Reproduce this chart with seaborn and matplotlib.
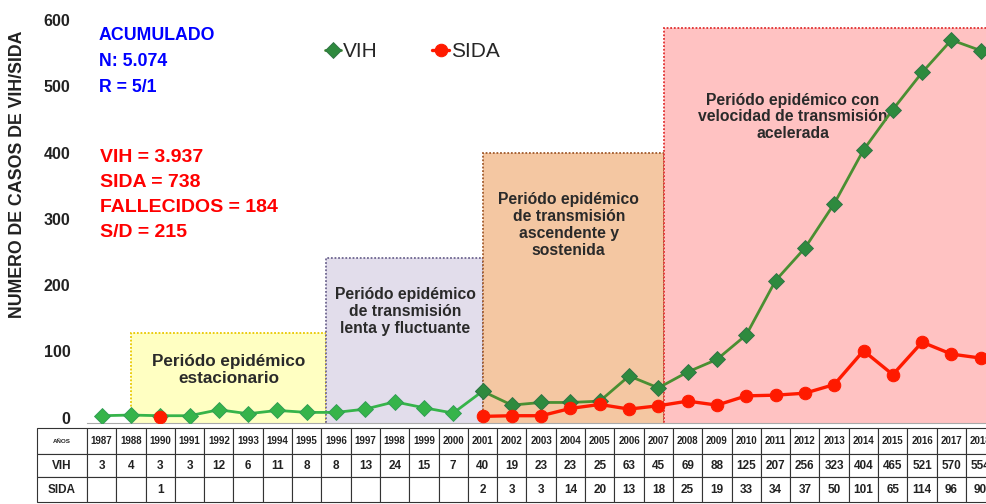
import numpy as np
import pandas as pd
import matplotlib
matplotlib.use("Agg")
import matplotlib.pyplot as plt
from matplotlib.patches import Rectangle
import seaborn as sns

# datos leidos de la tabla del grafico (1989 no aparece)
years = [1987, 1988, 1990, 1991, 1992, 1993, 1994, 1995, 1996, 1997, 1998, 1999, 2000,
         2001, 2002, 2003, 2004, 2005, 2006, 2007, 2008, 2009, 2010, 2011, 2012, 2013,
         2014, 2015, 2016, 2017, 2018]
vih = [3, 4, 3, 3, 12, 6, 11, 8, 8, 13, 24, 15, 7,
       40, 19, 23, 23, 25, 63, 45, 69, 88, 125, 207, 256, 323,
       404, 465, 521, 570, 554]
sida = [np.nan, np.nan, 1, np.nan, np.nan, np.nan, np.nan, np.nan, np.nan, np.nan, np.nan, np.nan, np.nan,
        2, 3, 3, 14, 20, 13, 18, 25, 19, 33, 34, 37, 50,
        101, 65, 114, 96, 90]

# periodos epidemicos (en posiciones de categoria) y altura de cada recuadro
period_labels = ["Periódo epidémico\nestacionario",
                 "Periódo epidémico\nde transmisión\nlenta y fluctuante",
                 "Periódo epidémico\nde transmisión\nascendente y\nsostenida",
                 "Periódo epidémico con\nvelocidad de transmisión\nacelerada"]
period_start = [1.0, 7.65, 13.0, 19.2]
period_end = [7.65, 13.0, 19.2, 31.0]
period_top = [128, 241, 400, 588]

acumulado_text = "ACUMULADO\nN: 5.074\nR = 5/1"
totales_text = "VIH = 3.937\nSIDA = 738\nFALLECIDOS = 184\nS/D = 215"
ylabel = "NUMERO DE CASOS DE VIH/SIDA"

df = pd.DataFrame({"year": years, "vih": vih, "sida": sida})
df["pos"] = np.arange(len(df))
df["tramo"] = df["sida"].isna().cumsum()

sns.set_style("white")
plt.rcParams["font.family"] = ["Liberation Sans", "DejaVu Sans"]

fig = plt.figure(figsize=(9.86, 5.04), dpi=100)
ax = fig.add_axes([0.0882, 0.1607, 0.9118, 0.806])

box_face = ["#FFFFC2", "#E2DDEB", "#F4C7A2", "#FFC2C2"]
box_edge = ["#E8C800", "#6E6690", "#A05A2C", "#E03030"]
text_xy = [(4.33, 72), (10.37, 160), (15.94, 291), (23.58, 454)]
text_size = [12.3, 11.3, 11.3, 11.3]
for i in range(len(period_labels)):
    rect = Rectangle((period_start[i], -20), period_end[i] - period_start[i], period_top[i] + 20,
                     facecolor=box_face[i], edgecolor=box_edge[i], linestyle=(0, (1, 1)),
                     linewidth=1.3, zorder=1)
    ax.add_patch(rect)
    ax.text(text_xy[i][0], text_xy[i][1], period_labels[i], ha="center", va="center",
            fontsize=text_size[i], fontweight="bold", color="#2a2a2a", linespacing=1.15, zorder=2)

early = df.iloc[:14]
late = df.iloc[13:]
sns.lineplot(data=early, x="pos", y="vih", color="#36b44a", marker="D", markersize=8.5,
             markeredgecolor="#2f9a55", markeredgewidth=0.6, linewidth=2, ax=ax, zorder=3)
sns.lineplot(data=late, x="pos", y="vih", color="#4a8f32", marker="D", markersize=8.5,
             markeredgecolor="#2e6f45", markerfacecolor="#2e8a3e", markeredgewidth=0.6,
             linewidth=2, ax=ax, zorder=3, label="VIH")
sns.lineplot(data=df.dropna(subset=["sida"]), x="pos", y="sida", units="tramo", estimator=None,
             color="#ff1a00", marker="o", markersize=9, markeredgecolor="#ff1a00",
             linewidth=2.4, ax=ax, zorder=4, label="SIDA")

ax.set_xlim(-0.5, 30.18)
ax.set_ylim(-8, 605)
ax.set_yticks(range(0, 601, 100))
ax.set_xticks(np.arange(0.5, 30, 1))
ax.set_xticklabels([])
ax.tick_params(axis="y", length=3, color="#bbbbbb", pad=9, labelsize=11.5, labelcolor="#222222")
ax.tick_params(axis="x", direction="in", length=4, color="#aaaaaa")
for lbl in ax.get_yticklabels():
    lbl.set_fontweight("bold")
for s in ["left", "top", "right"]:
    ax.spines[s].set_visible(False)
ax.spines["bottom"].set_color("#aaaaaa")
ax.set_xlabel("")
ax.set_ylabel("")

ax.text(-0.1, 590, acumulado_text, color="#0000ff", fontsize=12.8, fontweight="bold",
        va="top", ha="left", linespacing=1.72, zorder=5)
ax.text(-0.05, 406, totales_text, color="#ff0000", fontsize=14, fontweight="bold",
        va="top", ha="left", linespacing=1.62, zorder=5)
fig.text(0.018, 0.655, ylabel, rotation=90, ha="center", va="center", fontsize=12.8,
         fontweight="bold", color="#222222")

handles, labels = ax.get_legend_handles_labels()
uniq = dict(zip(labels, handles))
ax.legend(list(uniq.values()), list(uniq.keys()), loc="center", bbox_to_anchor=(0.418, 0.897),
          bbox_transform=fig.transFigure, ncol=2, frameon=False, fontsize=15,
          handlelength=0.8, handletextpad=0.1, columnspacing=2.6)

# tabla de datos bajo el grafico
row_vih = [str(v) for v in vih]
row_sida = ["" if np.isnan(s) else str(int(s)) for s in sida]
cell_text = [["AÑOS"] + [str(y) for y in years], ["VIH"] + row_vih, ["SIDA"] + row_sida]
ax_w = 899.0
tbl = ax.table(cellText=cell_text, cellLoc="center", colWidths=[50] + [29.3] * len(years),
               bbox=[-50 / ax_w, (423 - 502) / 406, (50 + 29.3 * len(years)) / ax_w, (502 - 428) / 406])
tbl.auto_set_font_size(False)
heights = [26, 23, 25]
narrow = ["Liberation Sans Narrow", "Liberation Sans", "DejaVu Sans"]
for (r, c), cell in tbl.get_celld().items():
    cell.set_height(heights[r])
    cell.set_edgecolor("#333333")
    cell.set_linewidth(0.8)
    txt = cell.get_text()
    txt.set_fontfamily(narrow)
    if r == 0:
        txt.set_fontsize(4.5 if c == 0 else 7)
    else:
        txt.set_fontsize(8.5)
    txt.set_fontweight("bold")
    txt.set_color("#222222")

fig.savefig("out.png", dpi=100)
